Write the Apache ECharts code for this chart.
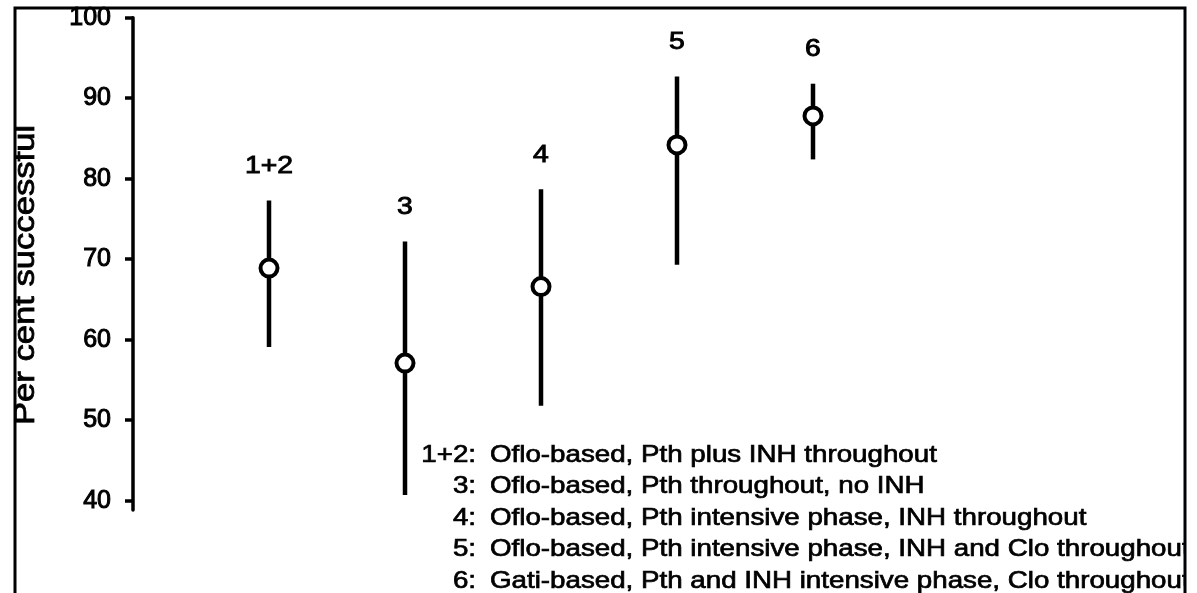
<!DOCTYPE html>
<html><head><meta charset="utf-8">
<script src="https://cdn.jsdelivr.net/npm/echarts@6/dist/echarts.min.js"></script>
<style>html,body{margin:0;padding:0;background:#fff}#c{width:1197px;height:593px}</style>
</head><body><div id="c"></div>
<script>
const groups = ['1+2', '3', '4', '5', '6'];
const means = [68.9, 57.1, 66.6, 84.2, 87.8];
const upper = [77.3, 72.2, 78.7, 92.7, 91.8];
const lower = [59.1, 40.7, 51.8, 69.3, 82.4];
const yTicks = [40, 50, 60, 70, 80, 90, 100];
const yTitle = 'Per cent successful';
const legendKeys = ['1+2:', '3:', '4:', '5:', '6:'];
const legendTexts = [
  'Oflo-based, Pth plus INH throughout',
  'Oflo-based, Pth throughout, no INH',
  'Oflo-based, Pth intensive phase, INH throughout',
  'Oflo-based, Pth intensive phase, INH and Clo throughout',
  'Gati-based, Pth and INH intensive phase, Clo throughout'
];

const FONT = '"Liberation Sans", Arial, Helvetica, sans-serif';
const chart = echarts.init(document.getElementById('c'), null, {renderer: 'canvas'});

const barData = groups.map((g, i) => [i + 1, lower[i], upper[i]]);
const ptData = groups.map((g, i) => [i + 1, means[i]]);

const legendRowsY = [455, 486.5, 518, 549.5, 581];
const SX = 1.155;
const THICK = 0.7;
const legendChildren = [];
legendKeys.forEach((k, i) => {
  legendChildren.push({type: 'text', x: (476 - 484) / SX, y: legendRowsY[i],
    style: {text: k, font: '24px ' + FONT, fill: '#000', stroke: '#000', lineWidth: THICK,
      align: 'right', verticalAlign: 'middle'}});
  legendChildren.push({type: 'text', x: (490 - 484) / SX, y: legendRowsY[i],
    style: {text: legendTexts[i], font: '24px ' + FONT, fill: '#000', stroke: '#000', lineWidth: THICK,
      align: 'left', verticalAlign: 'middle'}});
});

chart.setOption({
  backgroundColor: '#fff',
  animation: false,
  grid: {left: 133, right: 112, top: 17.7, bottom: 83},
  xAxis: {type: 'value', min: 0, max: 7, show: false},
  yAxis: {
    type: 'value', min: 38.85, max: 100,
    axisLine: {show: true, lineStyle: {color: '#000', width: 3.5}},
    axisTick: {show: true, length: 8, customValues: yTicks, lineStyle: {color: '#000', width: 3.5}},
    axisLabel: {customValues: yTicks, margin: 22, color: '#000', fontSize: 25, fontFamily: FONT,
      textBorderColor: '#000', textBorderWidth: 1},
    splitLine: {show: false}
  },
  series: [
    {
      type: 'custom', z: 2,
      data: barData,
      renderItem: function (params, api) {
        const x = api.value(0);
        const lo = api.coord([x, api.value(1)]);
        const hi = api.coord([x, api.value(2)]);
        return {type: 'group', children: [
          {type: 'line', shape: {x1: lo[0], y1: lo[1], x2: hi[0], y2: hi[1]},
            style: {stroke: '#000', lineWidth: 4.5}},
          {type: 'text', x: hi[0], y: hi[1] - 34, scaleX: 1.18,
            style: {text: groups[params.dataIndex], font: '24px ' + FONT, fill: '#000',
              stroke: '#000', lineWidth: 0.9, align: 'center', verticalAlign: 'middle'}}
        ]};
      }
    },
    {
      type: 'scatter', z: 3,
      data: ptData,
      symbol: 'circle', symbolSize: 17,
      itemStyle: {color: '#fff', borderColor: '#000', borderWidth: 4, opacity: 1}
    }
  ],
  graphic: [
    {type: 'text', x: 26, y: 275, rotation: Math.PI / 2, scaleX: 1.154,
      style: {text: yTitle, font: '30px ' + FONT, fill: '#000', stroke: '#000', lineWidth: 0.8,
        align: 'center', verticalAlign: 'middle'}},
    {type: 'group', x: 484, y: 0, scaleX: SX, children: legendChildren},
    {type: 'rect', shape: {x: 0, y: 0, width: 14, height: 593}, style: {fill: '#fff'}, z: 50},
    {type: 'rect', shape: {x: 1186, y: 0, width: 20, height: 593}, style: {fill: '#fff'}, z: 50},
    {type: 'polyline', shape: {points: [[15, 700], [15, 8], [1185, 8], [1185, 700]]},
      style: {stroke: '#000', lineWidth: 3, fill: null}, z: 60}
  ]
});
</script>
</body></html>
